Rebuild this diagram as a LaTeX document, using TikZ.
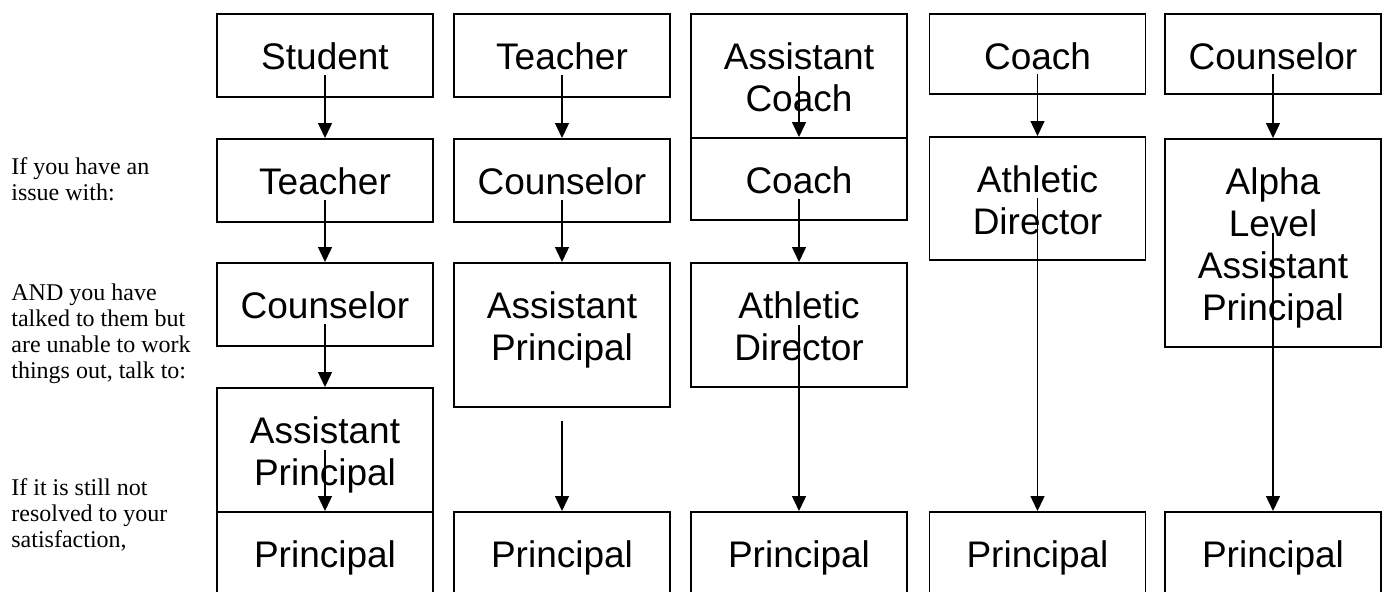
\documentclass[tikz,border=0pt]{standalone}
\usepackage{fontspec}
\setmainfont{Liberation Serif}
\newfontfamily\boxfont{Liberation Sans}
\usetikzlibrary{arrows.meta}
% text of a box, set from its top edge down
\newcommand{\boxtxt}[2]{\parbox[c][#1][t]{108pt}{\centering\vspace*{13.3pt}\strut #2}}

\begin{document}
\begin{tikzpicture}[x=0.5pt, y=-0.5pt,
    every node/.style={inner sep=0},
    box/.style={draw, line width=0.9pt, anchor=north,
      font=\boxfont\fontsize{18.5}{21}\selectfont},
    note/.style={anchor=base west, align=left,
      font=\fontsize{12}{13}\selectfont},
    link/.style={-{Triangle[width=7pt,length=7.5pt]}, line width=0.7pt}]
    \clip (0,0) rectangle (1391,591);
    % row notes on the left
    \node[note] (issue) at (11,200) {If you have an\\issue with:};
    \node[note] (talked) at (11,378)
      {AND you have\\talked to them but\\are unable to work\\things out, talk to:};
    \node[note] (still) at (11,547)
      {If it is still not\\resolved to your\\satisfaction,};
    % column A
    \node[box] (stuA) at (325,13) {\boxtxt{41.5pt}{Student}};
    \node[box] (teaA) at (325,138) {\boxtxt{41.5pt}{Teacher}};
    \node[box] (couA) at (325,262) {\boxtxt{41.5pt}{Counselor}};
    \node[box] (apA) at (325,387) {\boxtxt{62pt}{Assistant\\Principal}};
    \node[box] (prA) at (325,511) {\boxtxt{42pt}{Principal}};
    % column B
    \node[box] (teaB) at (562,13) {\boxtxt{41.5pt}{Teacher}};
    \node[box] (couB) at (562,138) {\boxtxt{41.5pt}{Counselor}};
    \node[box] (apB) at (562,262) {\boxtxt{72pt}{Assistant\\Principal}};
    \node[box] (prB) at (562,511) {\boxtxt{42pt}{Principal}};
    \coordinate (gapB) at (562,421);
    % column C
    \node[box] (acC) at (799,13) {\boxtxt{62pt}{Assistant\\Coach}};
    \node[box] (coC) at (799,137) {\boxtxt{41pt}{Coach}};
    \node[box] (adC) at (799,262) {\boxtxt{62pt}{Athletic\\Director}};
    \node[box] (prC) at (799,511) {\boxtxt{42pt}{Principal}};
    % column D
    \node[box] (coD) at (1037.5,13) {\boxtxt{40pt}{Coach}};
    \node[box] (adD) at (1037.5,136) {\boxtxt{61.5pt}{Athletic\\Director}};
    \node[box] (prD) at (1037.5,511) {\boxtxt{42pt}{Principal}};
    % column E
    \node[box] (couE) at (1273,13) {\boxtxt{40pt}{Counselor}};
    \node[box] (alE) at (1273,138)
      {\boxtxt{104pt}{Alpha\\Level\\Assistant\\Principal}};
    \node[box] (prE) at (1273,511) {\boxtxt{42pt}{Principal}};
    % arrows
    \draw[link] ([yshift=-10pt]stuA.center) -- (teaA.north);
    \draw[link] ([yshift=-10pt]teaA.center) -- (couA.north);
    \draw[link] ([yshift=-10pt]couA.center) -- (apA.north);
    \draw[link] (apA.center) -- (prA.north);
    \draw[link] ([yshift=-10pt]teaB.center) -- (couB.north);
    \draw[link] ([yshift=-10pt]couB.center) -- (apB.north);
    \draw[link] (gapB) -- (prB.north);
    \draw[link] (acC.center) -- (coC.north);
    \draw[link] ([yshift=-10pt]coC.center) -- (adC.north);
    \draw[link] (adC.center) -- (prC.north);
    \draw[link] ([yshift=-10pt]coD.center) -- (adD.north);
    \draw[link] (adD.center) -- (prD.north);
    \draw[link] ([yshift=-10pt]couE.center) -- (alE.north);
    \draw[link] ([yshift=5pt]alE.center) -- (prE.north);
\end{tikzpicture}
\end{document}
